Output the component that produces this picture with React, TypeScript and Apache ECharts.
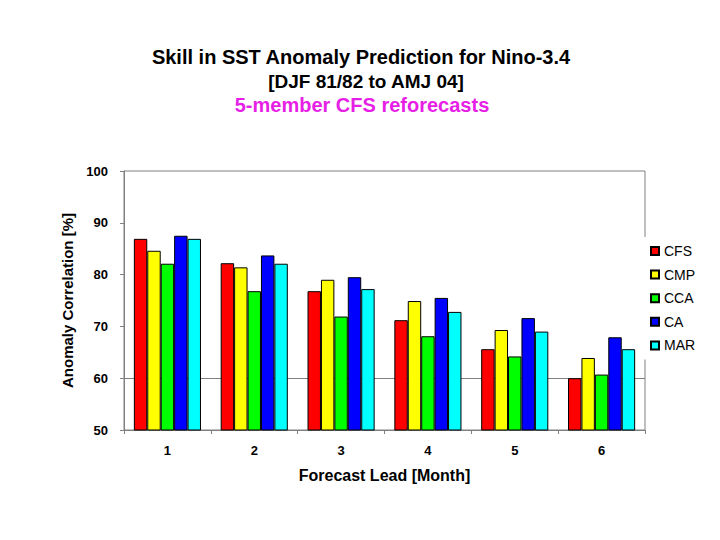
import React, { useEffect, useRef } from "react";
import * as echarts from "echarts";

const leads = ["1", "2", "3", "4", "5", "6"];
const seriesNames = ["CFS", "CMP", "CCA", "CA", "MAR"];
const seriesColors = ["#ff0000", "#ffff00", "#00ff00", "#0000ff", "#00ffff"];
const cfs = [86.9, 82.2, 76.8, 71.2, 65.6, 60.0];
const cmp = [84.6, 81.4, 79.0, 74.9, 69.3, 63.9];
const cca = [82.1, 76.8, 71.9, 68.1, 64.2, 60.7];
const ca = [87.5, 83.7, 79.5, 75.5, 71.6, 67.9];
const mar = [86.9, 82.1, 77.2, 72.8, 69.0, 65.6];
const seriesValues = [cfs, cmp, cca, ca, mar];
const yMin = 50;
const yMax = 100;
const yStep = 10;
const gridLineValue = 60;

const titleLines = [
  "Skill in SST Anomaly Prediction for Nino-3.4",
  "[DJF 81/82 to AMJ 04]",
  "5-member CFS reforecasts",
];
const xAxisTitle = "Forecast Lead [Month]";
const yAxisTitle = "Anomaly Correlation [%]";

const FONT = "'Liberation Sans', Arial, Helvetica, sans-serif";

export default function App() {
  const ref = useRef<HTMLDivElement>(null);

  useEffect(() => {
    if (!ref.current) return;
    const chart = echarts.init(ref.current, undefined, { renderer: "svg" });

    const series: any[] = seriesNames.map((name, i) => ({
      name,
      type: "bar",
      data: seriesValues[i],
      barGap: "0%",
      barCategoryGap: "22.7%",
      itemStyle: {
        color: seriesColors[i],
        borderColor: "#000",
        borderWidth: 1,
      },
      ...(i === 0
        ? {
            markLine: {
              silent: true,
              z: 1,
              symbol: "none",
              label: { show: false },
              lineStyle: { color: "#808080", type: "solid", width: 1 },
              data: [{ yAxis: gridLineValue }],
            },
          }
        : {}),
    }));

    chart.setOption({
      animation: false,
      backgroundColor: "#fff",
      textStyle: { fontFamily: FONT },
      graphic: [
        {
          type: "text",
          x: 361,
          y: 57,
          style: {
            text: titleLines[0],
            align: "center",
            verticalAlign: "middle",
            font: `bold 20px ${FONT}`,
            fill: "#000",
          },
        },
        {
          type: "text",
          x: 366,
          y: 81,
          style: {
            text: titleLines[1],
            align: "center",
            verticalAlign: "middle",
            font: `bold 19px ${FONT}`,
            fill: "#000",
          },
        },
        {
          type: "text",
          x: 362,
          y: 105,
          style: {
            text: titleLines[2],
            align: "center",
            verticalAlign: "middle",
            font: `bold 20px ${FONT}`,
            fill: "#e61ee6",
          },
        },
      ],
      grid: {
        left: 124,
        right: 75,
        top: 171,
        bottom: 110,
        show: true,
        borderColor: "#808080",
        borderWidth: 1,
        backgroundColor: "transparent",
      },
      legend: {
        orient: "vertical",
        left: 640,
        top: 237,
        padding: [7, 8, 7, 10],
        backgroundColor: "#fff",
        itemWidth: 8,
        itemHeight: 8,
        itemGap: 9.6,
        icon: "rect",
        textStyle: {
          fontFamily: FONT,
          fontSize: 14,
          lineHeight: 14,
          color: "#000",
        },
        data: seriesNames,
      },
      xAxis: {
        type: "category",
        data: leads,
        name: xAxisTitle,
        nameLocation: "middle",
        nameGap: 37,
        nameTextStyle: {
          fontFamily: FONT,
          fontSize: 16,
          fontWeight: "bold",
          color: "#000",
        },
        axisLine: { show: true, lineStyle: { color: "#808080" } },
        axisTick: {
          show: true,
          alignWithLabel: false,
          length: 4,
          lineStyle: { color: "#808080" },
        },
        axisLabel: {
          margin: 14,
          fontFamily: FONT,
          fontSize: 13,
          fontWeight: "bold",
          color: "#000",
        },
        splitLine: { show: false },
      },
      yAxis: {
        type: "value",
        min: yMin,
        max: yMax,
        interval: yStep,
        name: yAxisTitle,
        nameLocation: "middle",
        nameGap: 35,
        nameTextStyle: {
          fontFamily: FONT,
          fontSize: 15,
          fontWeight: "bold",
          color: "#000",
        },
        axisLine: { show: true, lineStyle: { color: "#808080" } },
        axisTick: {
          show: true,
          length: 4,
          lineStyle: { color: "#808080" },
        },
        axisLabel: {
          margin: 16,
          fontFamily: FONT,
          fontSize: 13,
          fontWeight: "bold",
          color: "#000",
        },
        splitLine: { show: false },
      },
      series,
    });

    return () => {
      chart.dispose();
    };
  }, []);

  return (
    <div
      ref={ref}
      style={{
        position: "fixed",
        left: 0,
        top: 0,
        width: "720px",
        height: "540px",
        background: "#fff",
      }}
    />
  );
}
